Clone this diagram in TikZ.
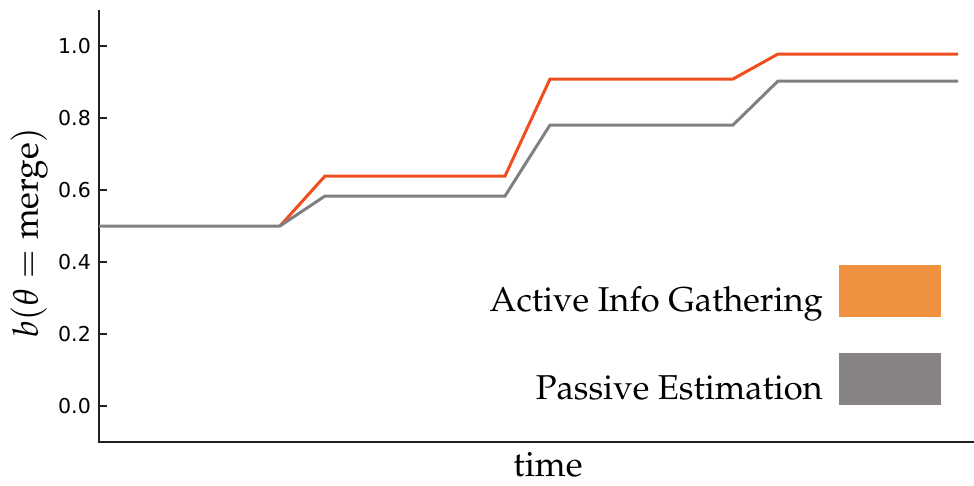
\documentclass[tikz,border=0pt]{standalone}
\usepackage{fontspec}
\newfontfamily\tickfont{DejaVu Sans}
\usepackage[T1]{fontenc}
\usepackage{mathpazo}
\definecolor{activeline}{HTML}{F04E1E}
\definecolor{passiveline}{HTML}{808080}
\definecolor{activebox}{HTML}{F0913F}
\definecolor{passivebox}{HTML}{878383}
\definecolor{axiscol}{HTML}{202020}
\tikzset{
  axisline/.style={draw=axiscol, line width=2pt},
  tickmark/.style={draw=axiscol, line width=1.3pt},
  ticklabel/.style={anchor=east, inner sep=0pt, font=\tickfont\fontsize{20.5}{22}\selectfont},
  curve/.style={line width=3pt, line join=miter},
  legendtext/.style={anchor=base east, inner sep=0pt, font=\fontsize{34.5}{40}\selectfont},
  legendbox/.style={minimum width=102pt, minimum height=52pt, inner sep=0pt, anchor=north west}
}
\begin{document}
\begin{tikzpicture}[x=1pt, y=-1pt]
\useasboundingbox (0,0) rectangle (974,485);
% axes
\coordinate (ytop) at (99,10);
\coordinate (origin) at (99,442);
\coordinate (xend) at (974,442);
\draw[axisline] (ytop) -- (origin) -- (xend);
% y ticks and labels
\foreach \v/\lab in {0/0.0, 1/0.2, 2/0.4, 3/0.6, 4/0.8, 5/1.0} {
  \draw[tickmark] (99,406-72*\v) -- (107,406-72*\v);
  \node[ticklabel] (tick\v) at (91,406-72*\v) {\lab};
}
% axis titles
\node[rotate=90, inner sep=0pt, font=\fontsize{35}{38}\selectfont] (ylab) at (29,233) {$b(\theta = \mathrm{merge})$};
\node[inner sep=0pt, anchor=base, font=\fontsize{35}{38}\selectfont] (xlab) at (548,476) {time};
% belief curves
\draw[curve, activeline] (280,226) -- (325,176) -- (505,176) -- (550,79) -- (733,79) -- (778,54) -- (958,54);
\draw[curve, passiveline] (99,226) -- (280,226) -- (325,196) -- (505,196) -- (550,125) -- (733,125) -- (778,81) -- (958,81);
% legend
\node[legendtext] (legA) at (823,311) {Active Info Gathering};
\node[legendbox, fill=activebox] (boxA) at (839,265) {};
\node[legendtext] (legP) at (823,399) {Passive Estimation};
\node[legendbox, fill=passivebox] (boxP) at (839,353) {};
\end{tikzpicture}
\end{document}
